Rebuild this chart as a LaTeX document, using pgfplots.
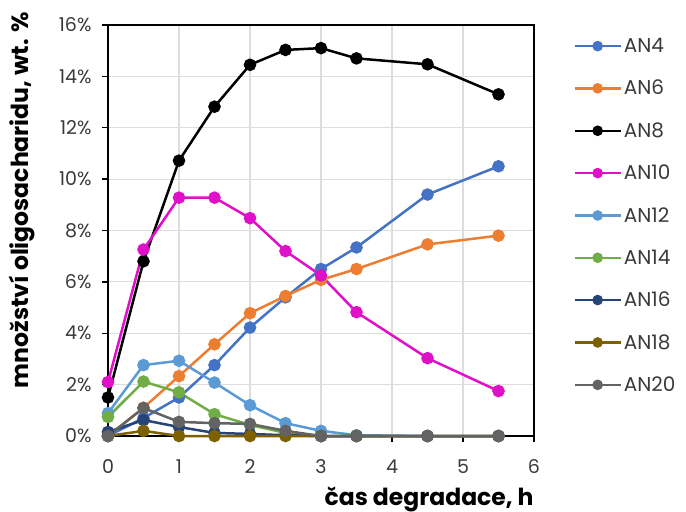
\documentclass[border=0pt]{standalone}
\usepackage{pgfplots}
\pgfplotsset{compat=1.18}
\usepackage{pgfplotstable}
\usepackage{fontspec}
\setmainfont{Poppins}
\definecolor{cAN4}{HTML}{4472C4}
\definecolor{cAN6}{HTML}{ED7D31}
\definecolor{cAN8}{HTML}{000000}
\definecolor{cAN10}{HTML}{E010C8}
\definecolor{cAN12}{HTML}{5B9BD5}
\definecolor{cAN14}{HTML}{70AD47}
\definecolor{cAN16}{HTML}{264478}
\definecolor{cAN18}{HTML}{7F6000}
\definecolor{cAN20}{HTML}{636363}
\definecolor{txt}{HTML}{3A3A3A}
\definecolor{gridc}{HTML}{DDDDDD}
\pgfplotstableread{
t    AN4   AN6   AN8    AN10  AN12  AN14  AN16  AN18  AN20
0    0     0     1.50   2.10  0.89  0.74  0.16  0     0
0.5  0.70  1.10  6.80   7.26  2.76  2.12  0.62  0.20  1.09
1    1.50  2.33  10.72  9.28  2.93  1.70  0.35  0     0.55
1.5  2.76  3.57  12.82  9.28  2.08  0.85  0.12  0     0.50
2    4.22  4.78  14.45  8.48  1.20  0.43  0.08  0     0.47
2.5  5.40  5.45  15.03  7.20  0.50  0.12  0.03  0     0.20
3    6.50  6.08  15.10  6.25  0.20  0     0     0     0
3.5  7.34  6.50  14.70  4.82  0.03  0     0     0     0
4.5  9.40  7.46  14.47  3.03  0     0     0     0     0
5.5  10.50 7.80  13.30  1.75  0     0     0     0     0
}\datatable
\begin{document}
\begin{tikzpicture}
\useasboundingbox (-108bp,-76bp) rectangle (578bp,436bp);
\begin{axis}[
  scale only axis,
  width=426bp, height=411bp,
  xmin=0, xmax=6, ymin=0, ymax=16,
  xtick={0,1,2,3,4,5,6},
  ytick={0,2,4,6,8,10,12,14,16},
  yticklabel={\pgfmathprintnumber{\tick}\%},
  /pgf/number format/assume math mode=true,
  tick label style={font=\fontsize{19bp}{22bp}\selectfont, text=txt},
  xticklabel style={yshift=-14bp},
  yticklabel style={xshift=-7bp},
  grid=major,
  major grid style={draw=gridc, line width=1.2bp},
  axis line style={black, line width=1.3bp},
  tick style={black, line width=1.3bp},
  tick align=outside,
  major tick length=6bp,
  xtick pos=bottom, ytick pos=left,
  xlabel={čas degradace, h},
  xlabel style={font=\bfseries\fontsize{23.5bp}{26bp}\selectfont, at={(axis description cs:1,0)}, anchor=base east, yshift=-69bp, xshift=3bp},
  ylabel={množství oligosacharidu, wt. \%},
  ylabel style={font=\bfseries\fontsize{23.5bp}{26bp}\selectfont, at={(axis description cs:-0.202,0.574)}, anchor=center},
  every axis plot/.append style={line width=2.5bp, mark=*, mark size=5bp},
  legend style={at={(1.085,0.978)}, anchor=north west, draw=none, fill=none,
    font=\fontsize{20bp}{22bp}\selectfont, text=txt, row sep=22.2bp},
  legend cell align=left,
  legend image code/.code={
    \draw[mark repeat=2, mark phase=2, line width=2.5bp, mark size=4bp] plot coordinates {(0bp,0bp) (23bp,0bp) (46bp,0bp)};
  },
  clip=false,
]
\addplot[color=cAN4, mark options={fill=cAN4}] table[x=t, y=AN4] {\datatable};
\addlegendentry{AN4}
\addplot[color=cAN6, mark options={fill=cAN6}] table[x=t, y=AN6] {\datatable};
\addlegendentry{AN6}
\addplot[color=cAN8, mark options={fill=cAN8}] table[x=t, y=AN8] {\datatable};
\addlegendentry{AN8}
\addplot[color=cAN10, mark options={fill=cAN10}] table[x=t, y=AN10] {\datatable};
\addlegendentry{AN10}
\addplot[color=cAN12, mark options={fill=cAN12}] table[x=t, y=AN12] {\datatable};
\addlegendentry{AN12}
\addplot[color=cAN14, mark options={fill=cAN14}] table[x=t, y=AN14] {\datatable};
\addlegendentry{AN14}
\addplot[color=cAN16, mark options={fill=cAN16}] table[x=t, y=AN16] {\datatable};
\addlegendentry{AN16}
\addplot[color=cAN18, mark options={fill=cAN18}] table[x=t, y=AN18] {\datatable};
\addlegendentry{AN18}
\addplot[color=cAN20, mark options={fill=cAN20}] table[x=t, y=AN20] {\datatable};
\addlegendentry{AN20}
\end{axis}
\end{tikzpicture}
\end{document}
